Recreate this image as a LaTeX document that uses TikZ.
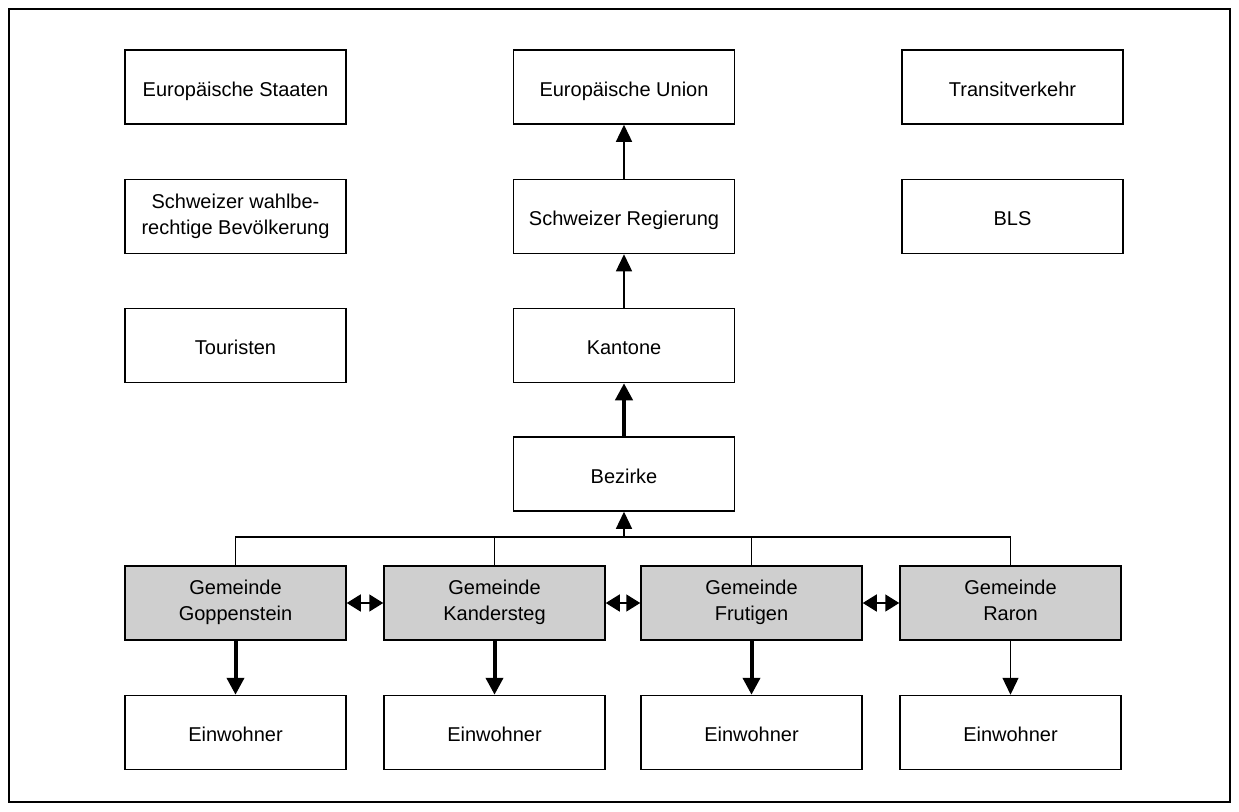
\documentclass[tikz,border=0pt]{standalone}
\usepackage{fontspec}
\setmainfont{Liberation Sans}
\usetikzlibrary{arrows.meta}
\newcommand{\mystrut}{\rule[-5pt]{0pt}{28pt}}
\begin{document}
\begin{tikzpicture}[x=1pt,y=-1pt,
  box/.style={draw=black, line width=1.5pt, fill=white, minimum width=221pt, minimum height=74pt, inner sep=0pt, align=center, font=\fontsize{20}{26}\selectfont, execute at begin node=\mystrut, execute at end node=\mystrut},
  gbox/.style={box, fill=black!19},
  thin/.style={line width=1.3pt},
  thinarrow/.style={thin, -{Triangle[length=17pt,width=16pt]}},
  thickarrow/.style={line width=4pt, -{Triangle[length=17pt,width=17pt]}},
  dblarrow/.style={line width=1.5pt, {Triangle[length=14pt,width=17pt]}-{Triangle[length=14pt,width=17pt]}}
]
\useasboundingbox (0,0) rectangle (1239,811);
\node[draw=black, line width=2pt, minimum width=1221pt, minimum height=793pt, inner sep=0pt] (frame) at (619.5,405.5) {};

\node[box] (es) at (235.5,87) {Europäische Staaten};
\node[box] (eu) at (624,87) {Europäische Union};
\node[box] (tv) at (1012.5,87) {Transitverkehr};
\node[box] (sw) at (235.5,216.5) {Schweizer wahlbe-\\rechtige Bevölkerung};
\node[box] (sr) at (624,216.5) {Schweizer Regierung};
\node[box] (bls) at (1012.5,216.5) {BLS};
\node[box] (tou) at (235.5,345.5) {Touristen};
\node[box] (kan) at (624,345.5) {Kantone};
\node[box] (bez) at (624,474) {Bezirke};

\node[gbox] (g1) at (235.5,603) {Gemeinde\\Goppenstein};
\node[gbox] (g2) at (494.5,603) {Gemeinde\\Kandersteg};
\node[gbox] (g3) at (751.5,603) {Gemeinde\\Frutigen};
\node[gbox] (g4) at (1010.5,603) {Gemeinde\\Raron};

\node[box] (e1) at (235.5,732.5) {Einwohner};
\node[box] (e2) at (494.5,732.5) {Einwohner};
\node[box] (e3) at (751.5,732.5) {Einwohner};
\node[box] (e4) at (1010.5,732.5) {Einwohner};

\coordinate (j) at (624,537);
\draw[thin] (g1.north) -- (g1.north |- j) -- (g4.north |- j) -- (g4.north);
\draw[thin] (g2.north) -- (g2.north |- j);
\draw[thin] (g3.north) -- (g3.north |- j);
\draw[thinarrow] (j) -- (bez.south);

\draw[thickarrow] (bez.north) -- (kan.south);
\draw[thinarrow] (kan.north) -- (sr.south);
\draw[thinarrow] (sr.north) -- (eu.south);

\draw[dblarrow] (g1.east) -- (g2.west);
\draw[dblarrow] (g2.east) -- (g3.west);
\draw[dblarrow] (g3.east) -- (g4.west);

\draw[thickarrow] (g1.south) -- (e1.north);
\draw[thickarrow] (g2.south) -- (e2.north);
\draw[thickarrow] (g3.south) -- (e3.north);
\draw[thinarrow] (g4.south) -- (e4.north);
\end{tikzpicture}
\end{document}
